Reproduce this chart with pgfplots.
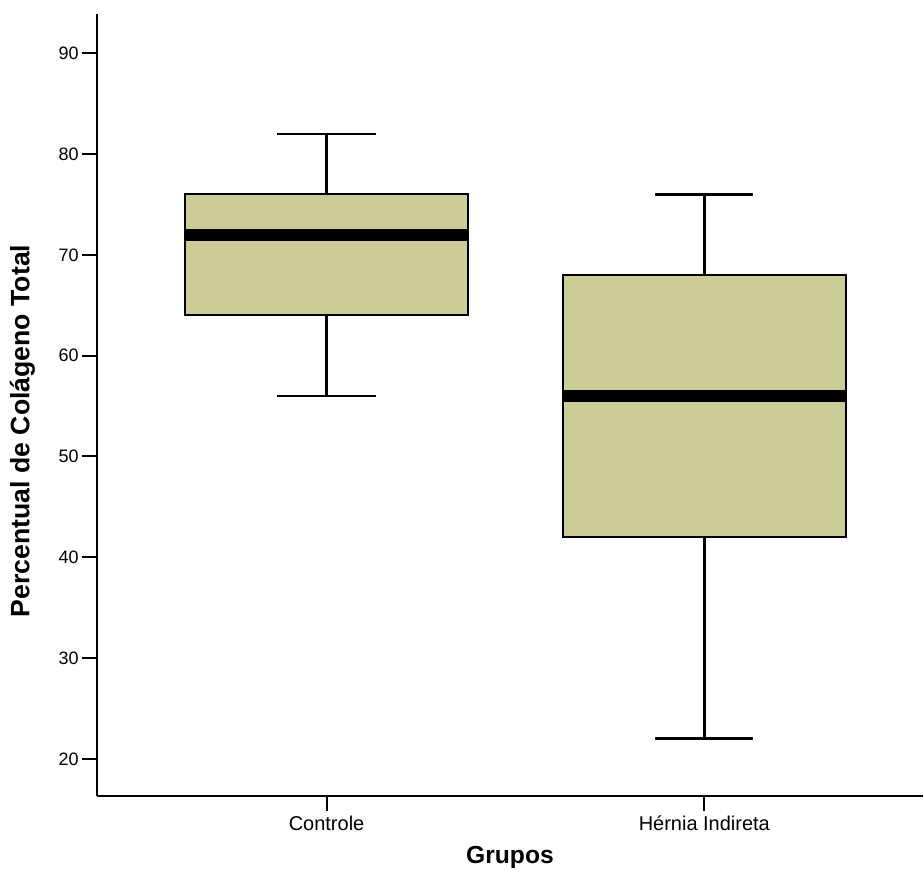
\documentclass[border=0pt]{standalone}
\usepackage{fontspec}
\setmainfont{Liberation Sans}
\usepackage{pgfplots}
\pgfplotsset{compat=1.18}

\definecolor{boxfill}{RGB}{204,204,153}

\begin{document}
\begin{tikzpicture}
\begin{axis}[
  width=620.25pt, height=587.25pt,
  scale only axis,
  clip=false,
  xmin=0.392, xmax=2.579,
  ymin=16.3, ymax=93.9,
  axis x line=bottom, axis y line=left,
  axis line style={-, line width=1.5pt, black},
  tick align=outside,
  major tick length=11.5pt,
  tick style={line width=1.5pt, black},
  xtick={1,2},
  xticklabels={Controle, Hérnia Indireta},
  ytick={20,30,...,90},
  /pgf/number format/assume math mode=true,
  yticklabel style={font=\fontsize{13.5}{16}\selectfont, inner sep=2pt},
  xticklabel style={font=\fontsize{15}{17}\selectfont, inner sep=3pt},
  xlabel={Grupos},
  ylabel={Percentual de Colágeno Total},
  every axis x label/.style={at={(axis description cs:0.5,0)}, anchor=center, yshift=-46pt,
    font=\bfseries\fontsize{18.5}{20}\selectfont},
  every axis y label/.style={at={(axis description cs:0,0.5)}, anchor=center,
    xshift=-56pt, yshift=-19.5pt, rotate=90,
    font=\bfseries\fontsize{20}{22}\selectfont},
]
% Controle: min 56, Q1 64, median 72, Q3 76, max 82
\addplot[black, line width=2pt] coordinates {(1,76) (1,82)};
\addplot[black, line width=2pt] coordinates {(1,64) (1,56)};
\addplot[black, line width=2pt] coordinates {(0.87,82) (1.13,82)};
\addplot[black, line width=2pt] coordinates {(0.87,56) (1.13,56)};
\addplot[draw=black, line width=1.5pt, fill=boxfill] coordinates {(0.625,64) (1.375,64) (1.375,76) (0.625,76)} -- cycle;
\addplot[black, line width=9pt] coordinates {(0.625,72) (1.375,72)};
% Hernia Indireta: min 22, Q1 42, median 56, Q3 68, max 76
\addplot[black, line width=2pt] coordinates {(2,68) (2,76)};
\addplot[black, line width=2pt] coordinates {(2,42) (2,22)};
\addplot[black, line width=2pt] coordinates {(1.87,76) (2.13,76)};
\addplot[black, line width=2pt] coordinates {(1.87,22) (2.13,22)};
\addplot[draw=black, line width=1.5pt, fill=boxfill] coordinates {(1.625,42) (2.375,42) (2.375,68) (1.625,68)} -- cycle;
\addplot[black, line width=9pt] coordinates {(1.625,56) (2.375,56)};
\coordinate (bl) at (rel axis cs:0,0);
\coordinate (tr) at (rel axis cs:1,1);
\end{axis}
\path (bl) ++(-72.75pt,-60pt) (tr) ++(0pt,10.5pt);
\end{tikzpicture}
\end{document}
